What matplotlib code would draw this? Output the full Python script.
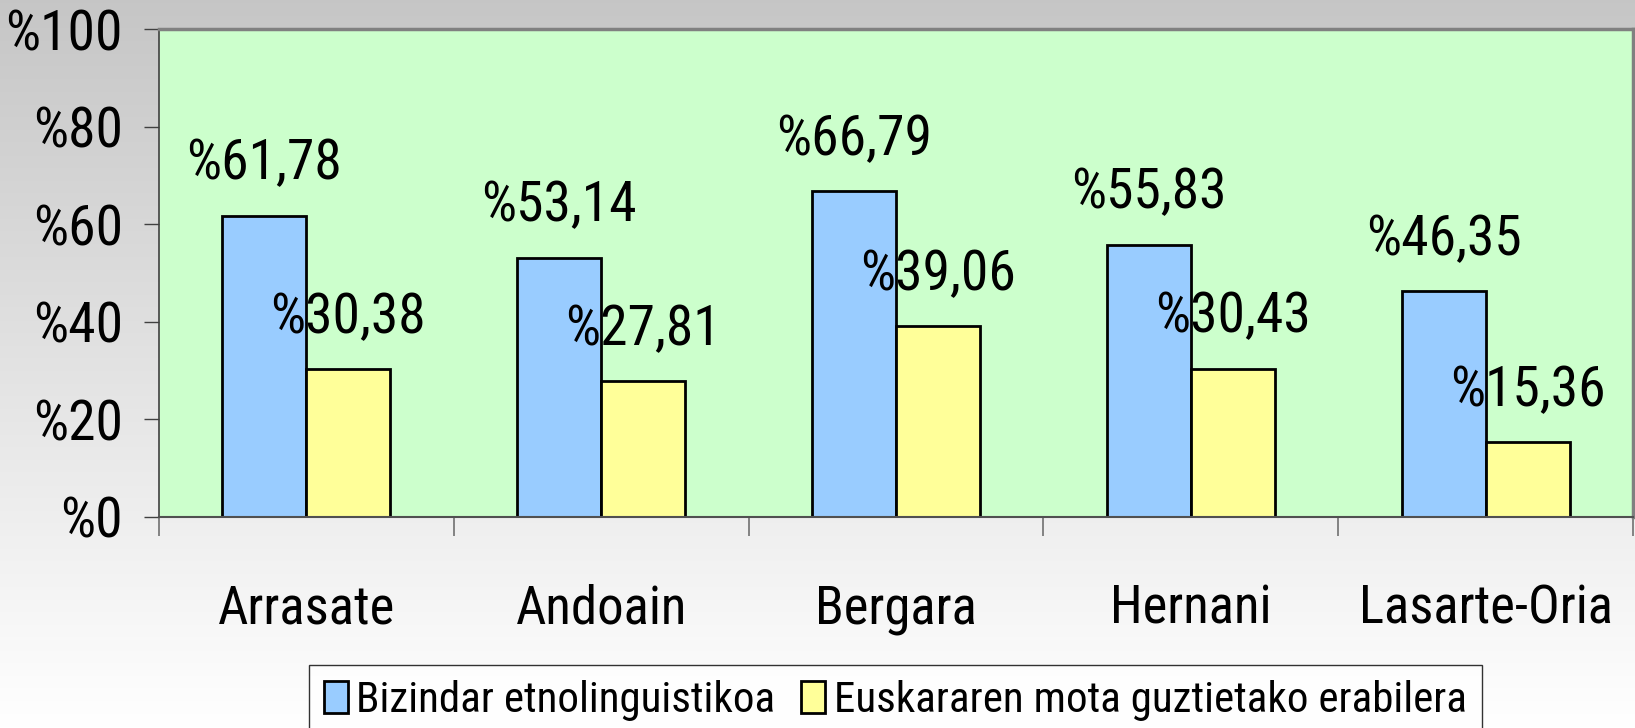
import numpy as np
import matplotlib.pyplot as plt

# data
towns = ['Arrasate', 'Andoain', 'Bergara', 'Hernani', 'Lasarte-Oria']
bizindar = [61.78, 53.14, 66.79, 55.83, 46.35]
erabilera = [30.38, 27.81, 39.06, 30.43, 15.36]
series_names = ['Bizindar etnolinguistikoa', 'Euskararen mota guztietako erabilera']
yticks = [0, 20, 40, 60, 80, 100]

plt.rcParams['font.family'] = ['Roboto Condensed', 'Liberation Sans', 'DejaVu Sans']

W, H = 1635, 728
fig = plt.figure(figsize=(W / 100, H / 100), dpi=100)

# gradient background, grey at the top fading to white
bg = fig.add_axes([0, 0, 1, 1], zorder=-10)
grad = np.linspace(0.776, 1.0, 256).reshape(-1, 1)
bg.imshow(np.dstack([grad, grad, grad]), aspect='auto', extent=[0, 1, 0, 1])
bg.axis('off')

ax = fig.add_axes([159 / W, (H - 517) / H, 1474 / W, 488 / H])
ax.set_facecolor('#CCFFCC')

x = np.arange(len(towns))
bw = 0.285
b1 = ax.bar(x - bw / 2, bizindar, bw, color='#99CCFF', edgecolor='black', linewidth=2, label=series_names[0])
b2 = ax.bar(x + bw / 2, erabilera, bw, color='#FFFF99', edgecolor='black', linewidth=2, label=series_names[1])

def fmt(v):
    return '%' + f'{v:.2f}'.replace('.', ',')

for xs, vals in [(x - bw / 2, bizindar), (x + bw / 2, erabilera)]:
    for xi, v in zip(xs, vals):
        ax.annotate(fmt(v), xy=(xi, v), xytext=(0, 26), textcoords='offset points',
                    ha='center', va='baseline', fontsize=40)

ax.set_xlim(-0.5, len(towns) - 0.5)
ax.set_ylim(0, 100)
ax.set_yticks(yticks)
ax.set_yticklabels(['%' + str(t) for t in yticks], fontsize=40)
ax.tick_params(axis='y', length=11, width=1, color='#404040', pad=15)

ax.set_xticks(x)
ax.set_xticklabels(towns, fontsize=38)
ax.set_xticks(np.arange(len(towns) + 1) - 0.5, minor=True)
ax.tick_params(axis='x', which='major', length=0, pad=48)
ax.tick_params(axis='x', which='minor', length=14, width=1.2, color='#707070')

for s in ['top', 'right']:
    ax.spines[s].set_color('#808080')
    ax.spines[s].set_linewidth(2.5)
ax.spines['left'].set_color('#404040')
ax.spines['left'].set_linewidth(1.2)
ax.spines['bottom'].set_color('#505050')
ax.spines['bottom'].set_linewidth(1.5)

leg = fig.legend(handles=[b1, b2], loc='upper left', bbox_to_anchor=(309 / W, 1 - 665 / H),
                 ncol=2, fontsize=31, frameon=True, fancybox=False, edgecolor='black',
                 handlelength=0.55, handleheight=0.75, handletextpad=0.2, columnspacing=0.6,
                 borderpad=0.35, borderaxespad=0)
leg.get_frame().set_linewidth(1)
leg.get_frame().set_facecolor('white')

fig.savefig('out.png', dpi=100)
